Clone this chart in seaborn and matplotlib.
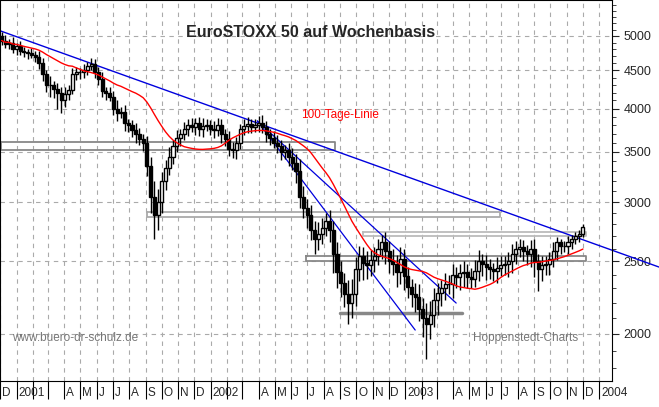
import numpy as np
import pandas as pd
import seaborn as sns
import matplotlib
matplotlib.use("Agg")
import matplotlib.pyplot as plt
from matplotlib.ticker import FixedLocator, NullFormatter

sns.set_style("white")
plt.rcParams['font.family'] = ['Liberation Sans', 'DejaVu Sans']

closes = [4930,4880,4900,4800,4850,4780,4760,4740,4720,4690,
          4600,4450,4300,4300,4250,4200,4100,4180,4240,4450,
          4480,4470,4500,4560,4590,4480,4380,4220,4200,4150,
          4000,3950,3960,3820,3800,3740,3700,3640,3600,3350,
          3050,2880,3000,3200,3330,3450,3560,3650,3700,3760,
          3800,3780,3820,3750,3790,3800,3760,3740,3800,3700,
          3640,3530,3520,3600,3750,3790,3810,3780,3800,3830,
          3780,3700,3650,3600,3560,3500,3520,3450,3380,3300,
          3050,2950,2880,2750,2680,2720,2770,2830,2750,2560,
          2420,2340,2260,2200,2260,2440,2540,2490,2470,2510,
          2540,2600,2650,2580,2500,2480,2420,2520,2390,2310,
          2260,2240,2160,2100,2060,2120,2220,2270,2300,2330,
          2330,2400,2380,2410,2420,2380,2370,2430,2500,2480,
          2460,2440,2430,2450,2470,2480,2500,2560,2600,2610,
          2580,2560,2600,2500,2440,2470,2480,2520,2580,2650,
          2620,2620,2650,2680,2700,2720,2780]
first_open = 5000
wick_hi = [60,80,50,90,40,70,60,50,80,60,
           90,70,60,120,50,70,80,100,60,80,
           70,50,90,60,80,70,60,90,50,80,
           70,100,60,80,50,60,90,70,60,80,
           100,150,120,90,80,100,70,90,60,80,
           70,90,60,80,100,70,60,90,80,70,
           60,90,80,70,60,80,90,60,70,80,
           90,70,60,80,90,70,60,80,90,100,
           120,100,80,90,80,100,90,70,100,80,
           90,80,70,100,110,90,80,70,90,80,
           70,80,60,90,80,100,70,90,80,70,
           60,80,90,70,100,90,80,70,60,80,
           70,80,60,70,80,60,70,80,90,60,
           70,60,50,80,70,60,70,80,60,70,
           60,50,70,80,60,70,60,50,70,40,
           30,40,50,30,40,30,20]
wick_lo = [70,60,80,50,90,60,70,80,50,70,
           80,100,90,150,120,200,150,80,70,60,
           80,90,70,60,50,90,80,70,100,60,
           80,100,70,90,80,70,100,60,90,100,
           150,200,130,100,90,70,80,60,90,70,
           80,60,90,70,80,60,70,90,60,100,
           80,70,90,100,70,60,80,70,60,80,
           70,90,80,60,70,90,80,100,70,120,
           100,90,110,80,120,90,80,70,100,150,
           120,100,90,140,100,80,90,130,100,80,
           90,70,80,100,90,80,110,90,100,80,
           90,100,80,120,210,90,80,100,90,80,
           70,100,80,90,100,80,70,60,80,90,
           100,70,80,90,60,70,100,90,80,70,
           80,90,100,120,160,90,70,80,60,70,
           60,50,60,50,40,50,30]
month_labels = ["D","2001","","","A","M","J","J","A","S","O","N",
                "D","2002","","","A","M","J","J","A","S","O","N",
                "D","2003","","","A","M","J","J","A","S","O","N",
                "D","2004"]
y_ticks = [2000, 2500, 3000, 3500, 4000, 4500, 5000]

n = len(closes)
idx = np.arange(n)
opens = [first_open] + closes[:-1]
df = pd.DataFrame({"i": idx, "open": opens, "close": closes})
df["high"] = np.maximum(df.open, df.close) + np.array(wick_hi)
df["low"] = np.minimum(df.open, df.close) - np.array(wick_lo)
df["ma"] = df.close.rolling(20, min_periods=1).mean()

start = pd.Timestamp("2000-12-04")
months = pd.date_range("2000-12-01", periods=len(month_labels), freq="MS")
mpos = [(m - start).days / 7 for m in months]

fig = plt.figure(figsize=(6.59, 4.07), dpi=100)
ax = fig.add_axes([0, 26/407, 612/659, 381/407])
ax.set_yscale("log")
ax.set_ylim(1730, 5585)
ax.set_xlim(-0.27, 163.8)

for y in y_ticks:
    ax.axhline(y, color="#aaaaaa", lw=0.8, ls=(0, (4, 4)), zorder=0)
for p in mpos:
    ax.axvline(p, color="#aaaaaa", lw=0.8, ls=(0, (4, 4)), zorder=0)

def px2i(px):
    return (px - 1) / 3.73
def py2v(py):
    return 5000 * np.exp((36 - py) / 325)

boxes = [(0, 335, 142, 150, "#888888"), (147, 500, 212, 217, "#aaaaaa"),
         (363, 586, 232, 236, "#bbbbbb"), (306, 586, 256, 261, "#888888")]
for x0, x1, y0, y1, c in boxes:
    ax.plot([px2i(x0), px2i(x1), px2i(x1), px2i(x0), px2i(x0)],
            [py2v(y0), py2v(y0), py2v(y1), py2v(y1), py2v(y0)], color=c, lw=1.3, zorder=1)
ax.plot([px2i(340), px2i(462)], [py2v(313)] * 2, color="#888888", lw=2.5, zorder=1)

ax.plot([px2i(0), px2i(659)], [py2v(31), py2v(267)], color="#0000dd", lw=1, clip_on=False, zorder=2)
ax.plot([px2i(257), px2i(415)], [py2v(121), py2v(330)], color="#0000dd", lw=0.9, zorder=2)
ax.plot([px2i(257), px2i(456)], [py2v(121), py2v(303)], color="#0000dd", lw=0.9, zorder=2)

ax.vlines(df.i, df.low, df.high, color="black", lw=1, zorder=3)
up = df.close >= df.open
ax.bar(df.i[up], (df.close - df.open)[up], bottom=df.open[up], width=0.82,
       color="white", edgecolor="black", lw=1.0, zorder=4)
ax.bar(df.i[~up], (df.open - df.close)[~up], bottom=df.close[~up], width=0.82,
       color="black", edgecolor="black", lw=1.0, zorder=4)

sns.lineplot(data=df, x="i", y="ma", color="red", lw=1, ax=ax, zorder=5)

ax.yaxis.tick_right()
ax.yaxis.set_major_locator(FixedLocator(y_ticks))
ax.yaxis.set_minor_locator(FixedLocator(list(range(1800, 5600, 100))))
ax.yaxis.set_minor_formatter(NullFormatter())
ax.set_yticklabels([str(v) for v in y_ticks])
ax.tick_params(axis="y", which="major", length=5, labelsize=9, direction="out", right=True)
ax.tick_params(axis="y", which="minor", length=3, right=True)
ax.set_xticks(mpos)
ax.set_xticklabels([])
ax.tick_params(axis="x", length=13, direction="out", color="black", bottom=True)
for p, lab in zip(mpos, month_labels):
    if lab:
        ax.text(p + 0.5, 1730 * 0.965, lab, fontsize=8.5, ha="left", va="center")
ax.set_xlabel("")
ax.set_ylabel("")
for s in ax.spines.values():
    s.set_color("black")
    s.set_linewidth(0.8)

ax.text(px2i(310), py2v(33), "EuroSTOXX 50 auf Wochenbasis", fontsize=11.5, fontweight="bold",
        ha="center", va="center")
ax.text(px2i(340), py2v(115), "100-Tage-Linie", fontsize=8.5, color="red", ha="center", va="center")
ax.text(px2i(75), py2v(338), "www.buero-dr-schulz.de", fontsize=8.5, color="#777777", ha="center", va="center")
ax.text(px2i(525), py2v(338), "Hoppenstedt-Charts", fontsize=8.5, color="#777777", ha="center", va="center")

fig.savefig("out.png", dpi=100)
